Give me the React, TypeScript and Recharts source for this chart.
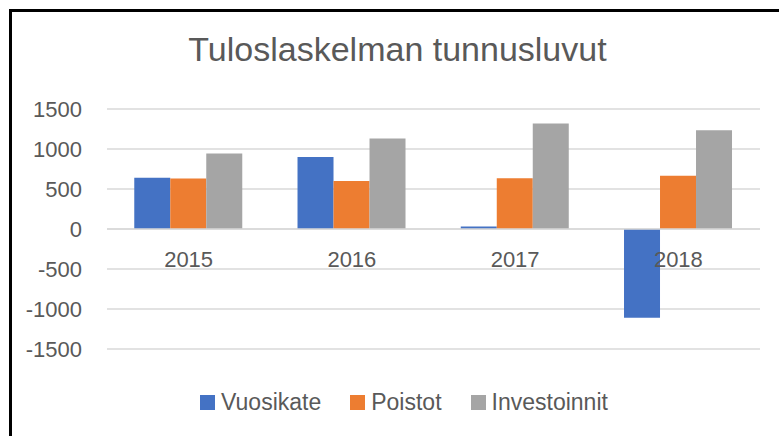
import React from "react";
import {
  BarChart,
  Bar,
  XAxis,
  YAxis,
  CartesianGrid,
  ReferenceLine,
} from "recharts";

const years = ["2015", "2016", "2017", "2018"];
const vuosikate = [640, 900, 30, -1110];
const poistot = [630, 600, 635, 665];
const investoinnit = [945, 1130, 1320, 1235];
const yTicks = [-1500, -1000, -500, 0, 500, 1000, 1500];

const series = [
  { key: "Vuosikate", color: "#4472C4" },
  { key: "Poistot", color: "#ED7D31" },
  { key: "Investoinnit", color: "#A5A5A5" },
];

const data = years.map((y, i) => ({
  year: y,
  Vuosikate: vuosikate[i],
  Poistot: poistot[i],
  Investoinnit: investoinnit[i],
}));

const W = 779;
const H = 436;
const X_AXIS_H = 30;
const margin = { top: 109, right: 19, bottom: 87 - X_AXIS_H, left: 0 };
const yMin = -1500;
const yMax = 1500;
const FONT = "'Liberation Sans', Arial, sans-serif";
const TEXT = "#595959";

// category labels sit just under the zero line, like in Excel
const YearTick = (props: any) => {
  const { x, payload } = props;
  const plotH = H - margin.top - margin.bottom - X_AXIS_H;
  const zeroY = margin.top + (plotH * yMax) / (yMax - yMin);
  return (
    <text
      x={x}
      y={zeroY + 38}
      textAnchor="middle"
      fill={TEXT}
      fontSize={22}
      fontFamily={FONT}
    >
      {payload.value}
    </text>
  );
};

export default function App() {
  return (
    <div
      style={{
        position: "absolute",
        left: 0,
        top: 0,
        width: W,
        height: H,
        overflow: "hidden",
        background: "#fff",
      }}
    >
      <div
        style={{
          position: "absolute",
          left: 9,
          top: 9,
          width: W,
          height: H,
          borderTop: "3px solid #000",
          borderLeft: "3px solid #000",
        }}
      />
      <div
        style={{
          position: "absolute",
          left: 0,
          width: 795,
          top: 30,
          textAlign: "center",
          fontFamily: FONT,
          fontSize: 34,
          color: TEXT,
        }}
      >
        Tuloslaskelman tunnusluvut
      </div>
      <div style={{ position: "absolute", left: 0, top: 0 }}>
        <BarChart
          width={W}
          height={H}
          data={data}
          margin={margin}
          barCategoryGap="16.7%"
          barGap={0}
        >
          <CartesianGrid vertical={false} stroke="#d9d9d9" strokeWidth={1.5} />
          <XAxis
            dataKey="year"
            height={X_AXIS_H}
            axisLine={false}
            tickLine={false}
            tick={(p: any) => <YearTick {...p} />}
            interval={0}
          />
          <YAxis
            domain={[yMin, yMax]}
            ticks={yTicks}
            width={107}
            axisLine={false}
            tickLine={false}
            tickMargin={19}
            tick={{ fill: TEXT, fontSize: 22, fontFamily: FONT }}
          />
          <ReferenceLine y={0} stroke="#d9d9d9" strokeWidth={1.5} />
          {series.map((s) => (
            <Bar
              key={s.key}
              dataKey={s.key}
              fill={s.color}
              isAnimationActive={false}
            />
          ))}
        </BarChart>
      </div>
      <div
        style={{
          position: "absolute",
          left: 0,
          width: 808,
          top: 389,
          display: "flex",
          justifyContent: "center",
          fontFamily: FONT,
          fontSize: 23,
          color: TEXT,
          lineHeight: "26px",
        }}
      >
        {series.map((s, i) => (
          <div
            key={s.key}
            style={{
              display: "flex",
              alignItems: "center",
              marginRight: i < series.length - 1 ? 29 : 0,
            }}
          >
            <span
              style={{
                width: 15,
                height: 15,
                background: s.color,
                display: "inline-block",
                marginRight: 6,
              }}
            />
            <span>{s.key}</span>
          </div>
        ))}
      </div>
    </div>
  );
}
